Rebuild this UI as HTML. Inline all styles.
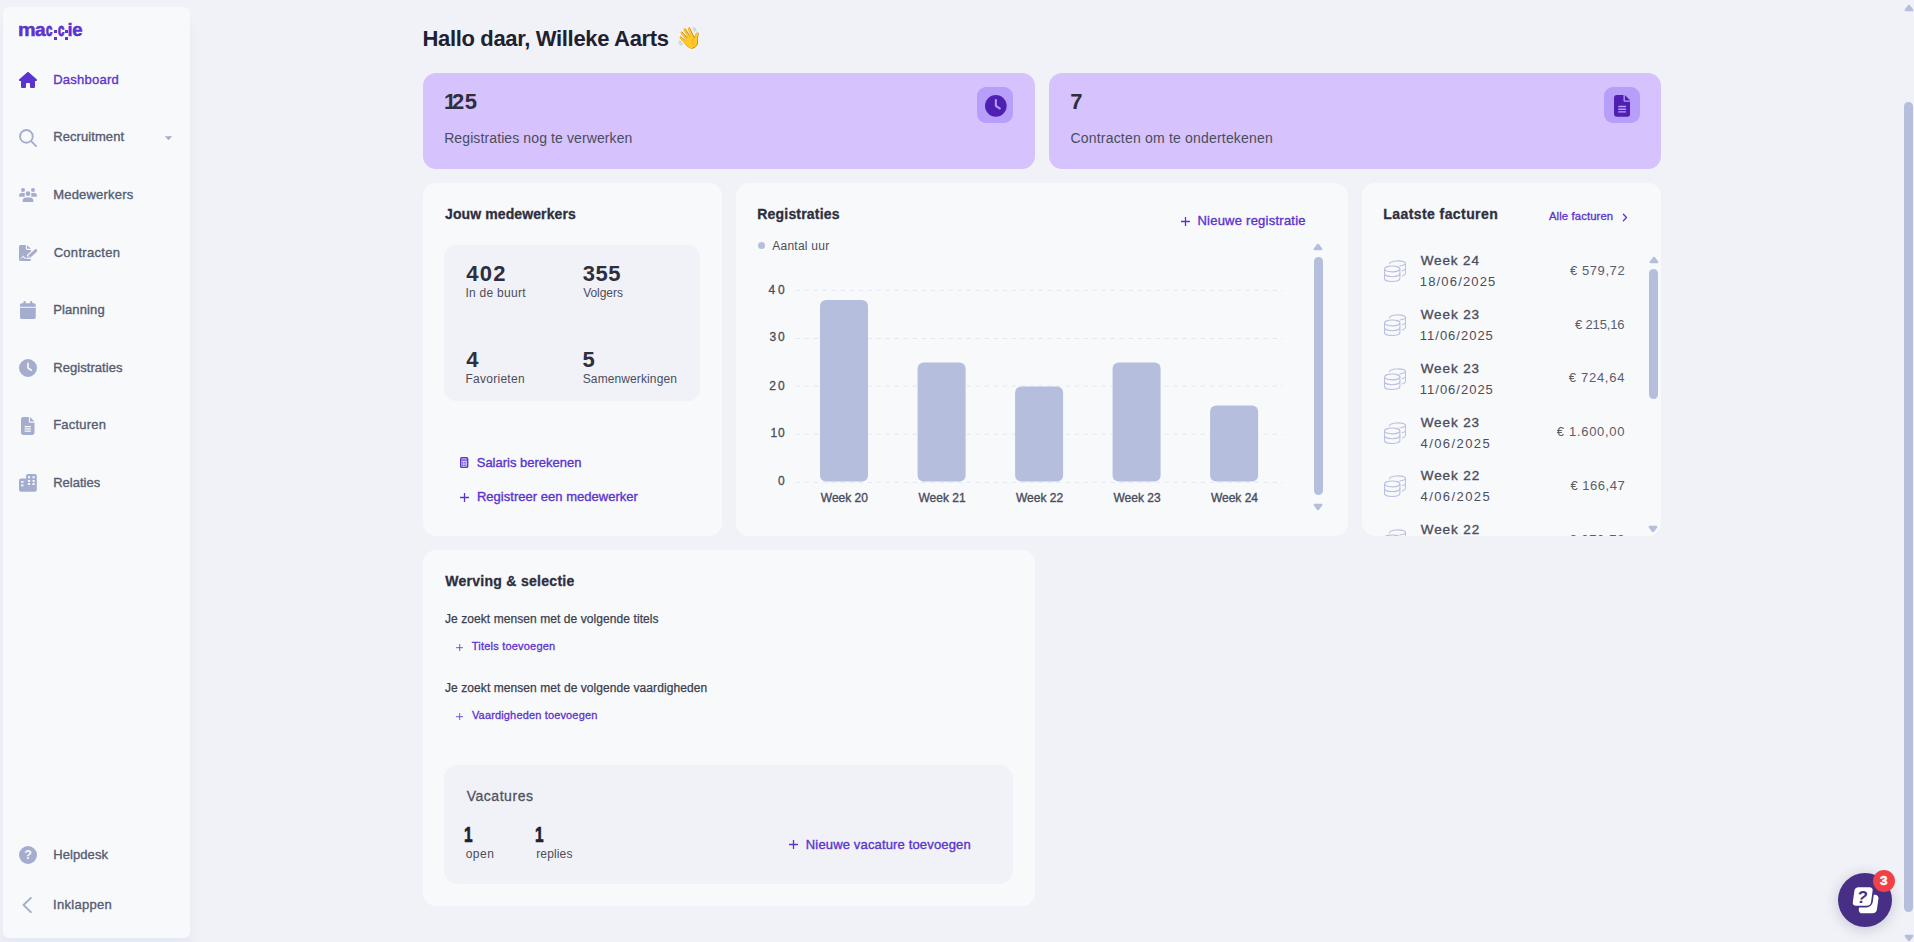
<!DOCTYPE html><html lang="nl"><head><meta charset="utf-8"><title>Maggie - Dashboard</title><style>
*{box-sizing:border-box;margin:0;padding:0}
html,body{width:1914px;height:942px;overflow:hidden;background:#f1f2f7;font-family:"Liberation Sans",sans-serif}
.t{position:absolute;white-space:pre;line-height:1;display:block}
.abs,.card,.pcard,.inner,svg.i{position:absolute}
.card{background:#f8f9fb;border-radius:13px}
.pcard{background:#d6c2fc;border-radius:13px}
.inner{background:#f1f2f7;border-radius:12px}
#sidebar{position:absolute;left:3px;top:7px;width:187px;height:931px;background:#f8f9fb;border-radius:6px;box-shadow:0 16px 14px rgba(112,144,210,.09)}
.ibox{position:absolute;width:36px;height:36px;border-radius:9px;background:#b79efa}
</style></head><body>
<nav id="sidebar"></nav>
<div class="abs" id="logo" style="left:0;top:0">
<span class="t " style="left:17.83px;top:21px;font-size:18.5px;color:#5b33cf;font-weight:700;-webkit-text-stroke:0.5px #5b33cf;transform:scaleX(1.07);transform-origin:0 0;">m</span>
<span class="t " style="left:34.81px;top:21px;font-size:18.5px;color:#5b33cf;font-weight:700;-webkit-text-stroke:0.5px #5b33cf;transform:scaleX(1.034);transform-origin:0 0;">a</span>
<span class="t " style="left:46.48px;top:21px;font-size:18.5px;color:#5b33cf;font-weight:700;-webkit-text-stroke:1.0px #5b33cf;transform:scaleX(.62);transform-origin:0 0;">c</span>
<span class="t " style="left:57.58px;top:21px;font-size:18.5px;color:#5b33cf;font-weight:700;-webkit-text-stroke:1.0px #5b33cf;transform:scaleX(.62);transform-origin:0 0;">c</span>
<span class="t " style="left:67.51px;top:21px;font-size:18.5px;color:#5b33cf;font-weight:700;-webkit-text-stroke:0.4px #5b33cf;">i</span>
<span class="t " style="left:72.28px;top:21px;font-size:18.5px;color:#5b33cf;font-weight:700;-webkit-text-stroke:0.5px #5b33cf;">e</span>
<i class="abs" style="left:53.7px;top:30.3px;width:2.9px;height:2.9px;background:#5b33cf"></i>
<i class="abs" style="left:53.5px;top:36.9px;width:3.3px;height:2.9px;background:#5b33cf"></i>
<i class="abs" style="left:65.0px;top:30.3px;width:2.9px;height:2.9px;background:#5b33cf"></i>
<i class="abs" style="left:64.8px;top:36.9px;width:3.3px;height:2.9px;background:#5b33cf"></i>
</div>
<span class="t " style="left:53.23px;top:73px;font-size:13px;color:#5b33cf;letter-spacing:0.238px;-webkit-text-stroke:0.35px #5b33cf;">Dashboard</span>
<span class="t " style="left:53.23px;top:130px;font-size:13px;color:#565d72;letter-spacing:0.078px;-webkit-text-stroke:0.35px #565d72;">Recruitment</span>
<span class="t " style="left:53.23px;top:188px;font-size:13px;color:#565d72;letter-spacing:0.191px;-webkit-text-stroke:0.35px #565d72;">Medewerkers</span>
<span class="t " style="left:53.64px;top:246px;font-size:13px;color:#565d72;letter-spacing:0.302px;-webkit-text-stroke:0.35px #565d72;">Contracten</span>
<span class="t " style="left:53.23px;top:303px;font-size:13px;color:#565d72;letter-spacing:0.115px;-webkit-text-stroke:0.35px #565d72;">Planning</span>
<span class="t " style="left:53.23px;top:361px;font-size:13px;color:#565d72;letter-spacing:0.054px;-webkit-text-stroke:0.35px #565d72;">Registraties</span>
<span class="t " style="left:53.23px;top:418px;font-size:13px;color:#565d72;letter-spacing:0.201px;-webkit-text-stroke:0.35px #565d72;">Facturen</span>
<span class="t " style="left:53.23px;top:476px;font-size:13px;color:#565d72;letter-spacing:-0.004px;-webkit-text-stroke:0.35px #565d72;">Relaties</span>
<span class="t " style="left:53.23px;top:848px;font-size:13px;color:#565d72;letter-spacing:0.079px;-webkit-text-stroke:0.35px #565d72;">Helpdesk</span>
<span class="t " style="left:53.10px;top:898px;font-size:13px;color:#565d72;letter-spacing:0.296px;-webkit-text-stroke:0.35px #565d72;">Inklappen</span>
<svg class="i" style="left:19.1px;top:71.9px" width="18" height="16" viewBox="0 0 576 512" ><path fill="#5b33cf" d="M575.8 255.5c0 18-15 32.100-32 32.100h-32l.7 160.200c0 2.700-.2 5.400-.5 8.100V472c0 22.100-17.900 40-40 40H456c-1.100 0-2.200 0-3.300-.1c-1.400 .1-2.800 .1-4.200 .1H392c-22.100 0-40-17.900-40-40V384c0-17.700-14.300-32-32-32H256c-17.700 0-32 14.300-32 32v88c0 22.100-17.900 40-40 40H128.100c-1.500 0-3-.1-4.500-.2c-1.200 .1-2.400 .2-3.600 .2H104c-22.100 0-40-17.900-40-40V360c0-.9 0-1.900 .1-2.800V287.600H32c-18 0-32-14-32-32.100c0-9 3-17 10-24L266.400 8c7-7 15-8 22-8s15 2 21 7L564.800 231.500c8 7 12 15 11 24z"/></svg>
<svg class="i" style="left:18.9px;top:128.9px" width="18" height="18" viewBox="0 0 18 18" ><circle cx="7.400" cy="7.400" r="6.350" fill="none" stroke="#a4adcd" stroke-width="1.900"/><path d="M12.100 12.100 L17.100 17.100" stroke="#a4adcd" stroke-width="1.900" stroke-linecap="round"/></svg>
<svg class="i" style="left:164.8px;top:135.9px" width="7" height="4.2" viewBox="0 0 7 4.2" ><path d="M.4 .4 H6.6 L3.500 3.900Z" fill="#a4adcd" stroke="#a4adcd" stroke-width=".6" stroke-linejoin="round"/></svg>
<svg class="i" style="left:19px;top:187.8px" width="18" height="14.4" viewBox="0 0 18 14.4" ><g fill="#a4adcd"><circle cx="4" cy="2.100" r="2"/><circle cx="14" cy="2.100" r="2"/><circle cx="9" cy="5.700" r="2.350"/><path d="M0 8.100 Q0 4.900 2.700 4.900 H4.700 Q5.500 4.900 6 5.300 Q5.200 7 5.900 8.700 H0.700 Q0 8.700 0 8.100Z"/><path d="M18 8.100 Q18 4.900 15.300 4.900 H13.300 Q12.500 4.900 12 5.300 Q12.800 7 12.100 8.700 H17.300 Q18 8.700 18 8.100Z"/><path d="M3.600 13.300 Q3.600 9.600 7.200 9.600 H10.800 Q14.400 9.600 14.400 13.300 Q14.400 14.400 13.400 14.400 H4.600 Q3.600 14.400 3.600 13.300Z"/></g></svg>
<svg class="i" style="left:19.1px;top:244.9px" width="18" height="16" viewBox="0 0 18 16" ><path fill="#a4adcd" d="M1.600 0 H6.900 V3.500 Q6.900 4.950 8.350 4.950 H12 V14.400 Q12 16 10.400 16 H1.600 Q0 16 0 14.400 V1.600 Q0 0 1.600 0Z"/><path fill="#a4adcd" d="M8 .35 L11.900 3.850 H8.500 Q8 3.850 8 3.350Z"/><path d="M9.400 12.200 L17.200 5.300" stroke="#f8f9fb" stroke-width="5.300" fill="none"/><path d="M10.500 11.300 L16.800 5.650" stroke="#a4adcd" stroke-width="3.100" stroke-linecap="round" fill="none"/><path fill="#a4adcd" stroke="#f8f9fb" stroke-width=".5" d="M8.500 13.100 L9.200 10.500 L11.500 12.700Z"/><path fill="none" stroke="#f8f9fb" stroke-width="0.950" stroke-linecap="round" stroke-linejoin="round" d="M1.900 13.500 L4.450 11 L5.400 13.500 L6.050 12.600 L7.600 13.500 H10.800"/></svg>
<svg class="i" style="left:20.1px;top:301px" width="15.75" height="18" viewBox="0 0 448 512" ><path fill="#a4adcd" d="M96 32V64H48C21.500 64 0 85.500 0 112v48H448V112c0-26.500-21.500-48-48-48H352V32c0-17.700-14.300-32-32-32s-32 14.300-32 32V64H160V32c0-17.700-14.300-32-32-32S96 14.300 96 32zM448 192H0V464c0 26.500 21.500 48 48 48H400c26.500 0 48-21.500 48-48V192z"/></svg>
<svg class="i" style="left:19.1px;top:359px" width="18" height="18" viewBox="0 0 512 512" ><path fill="#a4adcd" fill-rule="evenodd" d="M256 0a256 256 0 1 1 0 512A256 256 0 1 1 256 0zM232 120V256c0 8 4 15.500 10.700 20l96 64c11 7.400 25.900 4.400 33.300-6.700s4.400-25.900-6.700-33.300L280 243.200V120c0-13.300-10.700-24-24-24s-24 10.700-24 24z"/></svg>
<svg class="i" style="left:21.3px;top:417px" width="13.5" height="18" viewBox="0 0 384 512" ><path fill="#a4adcd" fill-rule="evenodd" d="M64 0C28.700 0 0 28.700 0 64V448c0 35.300 28.700 64 64 64H320c35.300 0 64-28.700 64-64V160H256c-17.700 0-32-14.300-32-32V0H64zM256 0V128H384L256 0zM112 256H272c8.800 0 16 7.200 16 16s-7.200 16-16 16H112c-8.800 0-16-7.200-16-16s7.200-16 16-16zm0 64H272c8.800 0 16 7.200 16 16s-7.200 16-16 16H112c-8.800 0-16-7.200-16-16s7.200-16 16-16zm0 64H272c8.800 0 16 7.200 16 16s-7.200 16-16 16H112c-8.800 0-16-7.200-16-16s7.200-16 16-16z"/></svg>
<svg class="i" style="left:19.1px;top:474px" width="18" height="18" viewBox="0 0 18 18" ><path fill="#a4adcd" d="M9 0 H15.800 Q17.800 0 17.800 2 V15.800 Q17.800 17.800 15.800 17.800 H2 Q0 17.800 0 15.800 V6.500 Q0 4.500 2 4.500 H7 V2 Q7 0 9 0Z"/><rect x="8.9" y="2.3" width="2.2" height="2" rx=".3" fill="#f8f9fb"/><rect x="13.5" y="2.3" width="2.2" height="2" rx=".3" fill="#f8f9fb"/><rect x="8.9" y="5.9" width="2.2" height="2" rx=".3" fill="#f8f9fb"/><rect x="13.5" y="5.9" width="2.2" height="2" rx=".3" fill="#f8f9fb"/><rect x="8.9" y="9.1" width="2.2" height="2" rx=".3" fill="#f8f9fb"/><rect x="13.5" y="9.1" width="2.2" height="2" rx=".3" fill="#f8f9fb"/><rect x="2.1" y="6.9" width="2.4" height="1.9" rx=".3" fill="#f8f9fb"/><rect x="2.1" y="10.4" width="2.4" height="1.9" rx=".3" fill="#f8f9fb"/></svg>
<svg class="i" style="left:19px;top:846px" width="18" height="18" viewBox="0 0 18 18" ><circle cx="9" cy="9" r="9" fill="#a4adcd"/><text x="9" y="13.300" text-anchor="middle" font-family="Liberation Sans, sans-serif" font-weight="700" font-size="12.500" fill="#f8f9fb">?</text></svg>
<svg class="i" style="left:18.5px;top:896px" width="18" height="18" viewBox="0 0 18 18" ><path d="M11.900 1.900 L4.500 9 L11.900 16.100" fill="none" stroke="#a4adcd" stroke-width="1.900" stroke-linecap="round" stroke-linejoin="round"/></svg>
<span class="t " style="left:422.43px;top:28px;font-size:22px;color:#1f2130;font-weight:700;letter-spacing:-0.332px;">Hallo daar, Willeke Aarts</span>
<span class="t " style="left:676.00px;top:27px;font-size:21px;color:#f5b32f;font-family:"Noto Color Emoji","Noto Emoji","DejaVu Sans",sans-serif;">👋</span>
<section class="pcard" style="left:423px;top:73px;width:612px;height:96px"></section>
<section class="pcard" style="left:1049px;top:73px;width:612px;height:96px"></section>
<div class="ibox" style="left:977px;top:87px"></div><div class="ibox" style="left:1604px;top:87px"></div>
<span class="t " style="left:443.91px;top:91px;font-size:22px;color:#2d2f3e;font-weight:700;">1</span>
<span class="t " style="left:452.04px;top:91px;font-size:22px;color:#2d2f3e;font-weight:700;letter-spacing:0.404px;">25</span>
<span class="t " style="left:444.15px;top:131px;font-size:14px;color:#4a4d5c;letter-spacing:0.109px;">Registraties nog te verwerken</span>
<span class="t " style="left:1070.25px;top:91px;font-size:22px;color:#2d2f3e;font-weight:700;">7</span>
<span class="t " style="left:1070.49px;top:131px;font-size:14px;color:#4a4d5c;letter-spacing:0.193px;">Contracten om te ondertekenen</span>
<section class="card" style="left:423px;top:183px;width:299px;height:353px"></section>
<section class="card" style="left:736px;top:183px;width:612px;height:353px"></section>
<section class="card" style="left:1362px;top:183px;width:299px;height:353px;overflow:hidden" id="fact"></section>
<span class="t " style="left:444.99px;top:207px;font-size:14px;color:#2d2f3e;font-weight:700;letter-spacing:0.108px;-webkit-text-stroke:0.3px #2d2f3e;">Jouw medewerkers</span>
<div class="inner" style="left:444px;top:245px;width:256px;height:156px"></div>
<span class="t " style="left:466.27px;top:263px;font-size:22px;color:#2d2f3e;font-weight:700;letter-spacing:1.304px;">402</span>
<span class="t " style="left:465.49px;top:287px;font-size:12px;color:#4a4d5c;letter-spacing:0.262px;">In de buurt</span>
<span class="t " style="left:582.70px;top:263px;font-size:22px;color:#2d2f3e;font-weight:700;letter-spacing:0.556px;">355</span>
<span class="t " style="left:583.15px;top:287px;font-size:12px;color:#4a4d5c;letter-spacing:-0.040px;">Volgers</span>
<span class="t " style="left:466.17px;top:349px;font-size:22px;color:#2d2f3e;font-weight:700;">4</span>
<span class="t " style="left:465.52px;top:373px;font-size:12px;color:#4a4d5c;letter-spacing:0.263px;">Favorieten</span>
<span class="t " style="left:582.62px;top:349px;font-size:22px;color:#2d2f3e;font-weight:700;">5</span>
<span class="t " style="left:582.76px;top:373px;font-size:12px;color:#4a4d5c;letter-spacing:0.108px;">Samenwerkingen</span>
<span class="t " style="left:476.71px;top:456px;font-size:13px;color:#5b33cf;letter-spacing:0.003px;-webkit-text-stroke:0.35px #5b33cf;">Salaris berekenen</span>
<span class="t " style="left:476.93px;top:490px;font-size:13px;color:#5b33cf;letter-spacing:0.024px;-webkit-text-stroke:0.35px #5b33cf;">Registreer een medewerker</span>
<span class="t " style="left:757.26px;top:207px;font-size:14px;color:#2d2f3e;font-weight:700;letter-spacing:0.197px;-webkit-text-stroke:0.3px #2d2f3e;">Registraties</span>
<i class="abs" style="left:758px;top:242.4px;width:7px;height:7px;border-radius:50%;background:#b5bedd"></i>
<span class="t " style="left:772.28px;top:240px;font-size:12px;color:#4a4d5c;letter-spacing:0.247px;">Aantal uur</span>
<span class="t " style="left:1197.43px;top:214px;font-size:13px;color:#5b33cf;letter-spacing:0.241px;-webkit-text-stroke:0.35px #5b33cf;">Nieuwe registratie</span>
<svg class="i" style="left:0px;top:0px" width="1914" height="942" viewBox="0 0 1914 942" id="chart" style="pointer-events:none"><line x1="795.5" x2="1283" y1="290.4" y2="290.4" stroke="#e4e7f1" stroke-width="1" stroke-dasharray="4.5 4.5"/><line x1="795.5" x2="1283" y1="338.5" y2="338.5" stroke="#e4e7f1" stroke-width="1" stroke-dasharray="4.5 4.5"/><line x1="795.5" x2="1283" y1="386.0" y2="386.0" stroke="#e4e7f1" stroke-width="1" stroke-dasharray="4.5 4.5"/><line x1="795.5" x2="1283" y1="434.2" y2="434.2" stroke="#e4e7f1" stroke-width="1" stroke-dasharray="4.5 4.5"/><line x1="795.5" x2="1283" y1="482.4" y2="482.4" stroke="#e4e7f1" stroke-width="1" stroke-dasharray="4.5 4.5"/><rect x="820" y="300.1" width="48" height="181.4" rx="6" fill="#b5bedd"/><rect x="917.6" y="362.5" width="48" height="119.0" rx="6" fill="#b5bedd"/><rect x="1015.1" y="386.4" width="48" height="95.1" rx="6" fill="#b5bedd"/><rect x="1112.6" y="362.5" width="48" height="119.0" rx="6" fill="#b5bedd"/><rect x="1210.1" y="405.6" width="48" height="75.9" rx="6" fill="#b5bedd"/></svg>
<span class="t " style="left:768.62px;top:284px;font-size:12px;color:#4a4d5c;letter-spacing:2.596px;-webkit-text-stroke:0.3px #4a4d5c;">40</span>
<span class="t " style="left:769.44px;top:331px;font-size:12px;color:#4a4d5c;letter-spacing:1.778px;-webkit-text-stroke:0.3px #4a4d5c;">30</span>
<span class="t " style="left:769.30px;top:380px;font-size:12px;color:#4a4d5c;letter-spacing:1.925px;-webkit-text-stroke:0.3px #4a4d5c;">20</span>
<span class="t " style="left:770.39px;top:427px;font-size:12px;color:#4a4d5c;letter-spacing:0.835px;-webkit-text-stroke:0.3px #4a4d5c;">10</span>
<span class="t " style="left:777.89px;top:475px;font-size:12px;color:#4a4d5c;-webkit-text-stroke:0.3px #4a4d5c;">0</span>
<span class="t " style="left:820.84px;top:492px;font-size:12px;color:#4a4d5c;-webkit-text-stroke:0.35px #4a4d5c;">Week 20</span>
<span class="t " style="left:918.50px;top:492px;font-size:12px;color:#4a4d5c;-webkit-text-stroke:0.35px #4a4d5c;">Week 21</span>
<span class="t " style="left:1016.01px;top:492px;font-size:12px;color:#4a4d5c;-webkit-text-stroke:0.35px #4a4d5c;">Week 22</span>
<span class="t " style="left:1113.47px;top:492px;font-size:12px;color:#4a4d5c;-webkit-text-stroke:0.35px #4a4d5c;">Week 23</span>
<span class="t " style="left:1210.88px;top:492px;font-size:12px;color:#4a4d5c;-webkit-text-stroke:0.35px #4a4d5c;">Week 24</span>
<i class="abs" style="left:1314px;top:257.3px;width:9.2px;height:237.6px;border-radius:5px;background:#b5bedd"></i>
<svg class="i" style="left:1313.4px;top:243.2px" width="10" height="8" viewBox="0 0 10 8" ><path d="M5 1.7 L8.4 6.2 H1.6 Z" fill="#b5bedd" stroke="#b5bedd" stroke-width="2" stroke-linejoin="round"/></svg>
<svg class="i" style="left:1313.4px;top:502.5px" width="10" height="8" viewBox="0 0 10 8" ><path d="M5 6.3 L8.4 1.8 H1.6 Z" fill="#b5bedd" stroke="#b5bedd" stroke-width="2" stroke-linejoin="round"/></svg>
<span class="t " style="left:1383.26px;top:207px;font-size:14px;color:#2d2f3e;font-weight:700;letter-spacing:0.424px;-webkit-text-stroke:0.3px #2d2f3e;">Laatste facturen</span>
<span class="t " style="left:1548.98px;top:211px;font-size:11.3px;color:#5b33cf;letter-spacing:0.113px;-webkit-text-stroke:0.3px #5b33cf;">Alle facturen</span>
<div class="abs" style="left:0;top:0;width:1914px;height:536px;overflow:hidden">
<svg class="i" style="left:1383.8px;top:260.1px" width="22.4" height="22.4" viewBox="0 0 22.4 22.4" ><g fill="none" stroke="#b9c1de" stroke-width="1.050" stroke-linecap="round"><ellipse cx="8.200" cy="9" rx="7.700" ry="2.900"/><path d="M.5 9 V18.600 A7.700 2.900 0 0 0 15.900 18.600 V9"/><path d="M.5 13.800 A7.700 2.900 0 0 0 15.900 13.800"/><path d="M5.600 3.900 A8 2.700 0 0 1 21.600 3.300 A8 2.700 0 0 1 15.800 5.900"/><path d="M21.600 3.300 V13.300 Q21.400 15 18.300 15.900"/><path d="M21.600 8.300 Q21.400 10 18.300 10.800"/></g></svg>
<span class="t " style="left:1420.74px;top:254px;font-size:13.5px;color:#4a4d5c;letter-spacing:0.854px;-webkit-text-stroke:0.35px #4a4d5c;">Week 24</span>
<span class="t " style="left:1419.81px;top:275px;font-size:13px;color:#4a4d5c;letter-spacing:1.164px;">18/06/2025</span>
<span class="t " style="left:1569.90px;top:264px;font-size:13px;color:#5a5d6a;letter-spacing:0.593px;">€ 579,72</span>
<svg class="i" style="left:1383.8px;top:313.90000000000003px" width="22.4" height="22.4" viewBox="0 0 22.4 22.4" ><g fill="none" stroke="#b9c1de" stroke-width="1.050" stroke-linecap="round"><ellipse cx="8.200" cy="9" rx="7.700" ry="2.900"/><path d="M.5 9 V18.600 A7.700 2.900 0 0 0 15.900 18.600 V9"/><path d="M.5 13.800 A7.700 2.900 0 0 0 15.900 13.800"/><path d="M5.600 3.900 A8 2.700 0 0 1 21.600 3.300 A8 2.700 0 0 1 15.800 5.900"/><path d="M21.600 3.300 V13.300 Q21.400 15 18.300 15.900"/><path d="M21.600 8.300 Q21.400 10 18.300 10.800"/></g></svg>
<span class="t " style="left:1420.74px;top:308px;font-size:13.5px;color:#4a4d5c;letter-spacing:0.887px;-webkit-text-stroke:0.35px #4a4d5c;">Week 23</span>
<span class="t " style="left:1419.81px;top:329px;font-size:13px;color:#4a4d5c;letter-spacing:0.993px;">11/06/2025</span>
<span class="t " style="left:1574.90px;top:318px;font-size:13px;color:#5a5d6a;letter-spacing:-0.133px;">€ 215,16</span>
<svg class="i" style="left:1383.8px;top:367.70000000000005px" width="22.4" height="22.4" viewBox="0 0 22.4 22.4" ><g fill="none" stroke="#b9c1de" stroke-width="1.050" stroke-linecap="round"><ellipse cx="8.200" cy="9" rx="7.700" ry="2.900"/><path d="M.5 9 V18.600 A7.700 2.900 0 0 0 15.900 18.600 V9"/><path d="M.5 13.800 A7.700 2.900 0 0 0 15.900 13.800"/><path d="M5.600 3.900 A8 2.700 0 0 1 21.600 3.300 A8 2.700 0 0 1 15.800 5.900"/><path d="M21.600 3.300 V13.300 Q21.400 15 18.300 15.900"/><path d="M21.600 8.300 Q21.400 10 18.300 10.800"/></g></svg>
<span class="t " style="left:1420.74px;top:362px;font-size:13.5px;color:#4a4d5c;letter-spacing:0.887px;-webkit-text-stroke:0.35px #4a4d5c;">Week 23</span>
<span class="t " style="left:1419.81px;top:383px;font-size:13px;color:#4a4d5c;letter-spacing:0.993px;">11/06/2025</span>
<span class="t " style="left:1568.70px;top:371px;font-size:13px;color:#5a5d6a;letter-spacing:0.726px;">€ 724,64</span>
<svg class="i" style="left:1383.8px;top:421.5px" width="22.4" height="22.4" viewBox="0 0 22.4 22.4" ><g fill="none" stroke="#b9c1de" stroke-width="1.050" stroke-linecap="round"><ellipse cx="8.200" cy="9" rx="7.700" ry="2.900"/><path d="M.5 9 V18.600 A7.700 2.900 0 0 0 15.900 18.600 V9"/><path d="M.5 13.800 A7.700 2.900 0 0 0 15.900 13.800"/><path d="M5.600 3.900 A8 2.700 0 0 1 21.600 3.300 A8 2.700 0 0 1 15.800 5.900"/><path d="M21.600 3.300 V13.300 Q21.400 15 18.300 15.900"/><path d="M21.600 8.300 Q21.400 10 18.300 10.800"/></g></svg>
<span class="t " style="left:1420.74px;top:416px;font-size:13.5px;color:#4a4d5c;letter-spacing:0.887px;-webkit-text-stroke:0.35px #4a4d5c;">Week 23</span>
<span class="t " style="left:1420.50px;top:437px;font-size:13px;color:#4a4d5c;letter-spacing:1.426px;">4/06/2025</span>
<span class="t " style="left:1556.80px;top:425px;font-size:13px;color:#5a5d6a;letter-spacing:0.696px;">€ 1.600,00</span>
<svg class="i" style="left:1383.8px;top:475.3px" width="22.4" height="22.4" viewBox="0 0 22.4 22.4" ><g fill="none" stroke="#b9c1de" stroke-width="1.050" stroke-linecap="round"><ellipse cx="8.200" cy="9" rx="7.700" ry="2.900"/><path d="M.5 9 V18.600 A7.700 2.900 0 0 0 15.900 18.600 V9"/><path d="M.5 13.800 A7.700 2.900 0 0 0 15.900 13.800"/><path d="M5.600 3.900 A8 2.700 0 0 1 21.600 3.300 A8 2.700 0 0 1 15.800 5.900"/><path d="M21.600 3.300 V13.300 Q21.400 15 18.300 15.900"/><path d="M21.600 8.300 Q21.400 10 18.300 10.800"/></g></svg>
<span class="t " style="left:1420.74px;top:469px;font-size:13.5px;color:#4a4d5c;letter-spacing:0.901px;-webkit-text-stroke:0.35px #4a4d5c;">Week 22</span>
<span class="t " style="left:1420.50px;top:490px;font-size:13px;color:#4a4d5c;letter-spacing:1.426px;">4/06/2025</span>
<span class="t " style="left:1570.40px;top:479px;font-size:13px;color:#5a5d6a;letter-spacing:0.522px;">€ 166,47</span>
<svg class="i" style="left:1383.8px;top:529.1px" width="22.4" height="22.4" viewBox="0 0 22.4 22.4" ><g fill="none" stroke="#b9c1de" stroke-width="1.050" stroke-linecap="round"><ellipse cx="8.200" cy="9" rx="7.700" ry="2.900"/><path d="M.5 9 V18.600 A7.700 2.900 0 0 0 15.900 18.600 V9"/><path d="M.5 13.800 A7.700 2.900 0 0 0 15.900 13.800"/><path d="M5.600 3.900 A8 2.700 0 0 1 21.600 3.300 A8 2.700 0 0 1 15.800 5.900"/><path d="M21.600 3.300 V13.300 Q21.400 15 18.300 15.900"/><path d="M21.600 8.300 Q21.400 10 18.300 10.800"/></g></svg>
<span class="t " style="left:1420.74px;top:523px;font-size:13.5px;color:#4a4d5c;letter-spacing:0.901px;-webkit-text-stroke:0.35px #4a4d5c;">Week 22</span>
<span class="t " style="left:1420.15px;top:544px;font-size:13px;color:#4a4d5c;letter-spacing:1.237px;">28/05/2025</span>
<span class="t " style="left:1568.90px;top:533px;font-size:13px;color:#5a5d6a;letter-spacing:0.723px;">€ 372,78</span>
</div>
<i class="abs" style="left:1649.2px;top:269px;width:9.2px;height:130px;border-radius:5px;background:#b5bedd"></i>
<svg class="i" style="left:1648.7px;top:255.8px" width="10" height="8" viewBox="0 0 10 8" ><path d="M5 1.7 L8.4 6.2 H1.6 Z" fill="#b5bedd" stroke="#b5bedd" stroke-width="2" stroke-linejoin="round"/></svg>
<svg class="i" style="left:1648.4px;top:524.5px" width="10" height="8" viewBox="0 0 10 8" ><path d="M5 6.3 L8.4 1.8 H1.6 Z" fill="#b5bedd" stroke="#b5bedd" stroke-width="2" stroke-linejoin="round"/></svg>
<section class="card" style="left:423px;top:550px;width:612px;height:356px"></section>
<span class="t " style="left:445.19px;top:574px;font-size:14px;color:#2d2f3e;font-weight:700;letter-spacing:0.286px;-webkit-text-stroke:0.3px #2d2f3e;">Werving &amp; selectie</span>
<span class="t " style="left:445.01px;top:613px;font-size:12px;color:#3b3e4d;letter-spacing:0.074px;-webkit-text-stroke:0.25px #3b3e4d;">Je zoekt mensen met de volgende titels</span>
<span class="t " style="left:471.75px;top:641px;font-size:11px;color:#5b33cf;letter-spacing:0.210px;-webkit-text-stroke:0.3px #5b33cf;">Titels toevoegen</span>
<span class="t " style="left:445.01px;top:682px;font-size:12px;color:#3b3e4d;letter-spacing:0.075px;-webkit-text-stroke:0.25px #3b3e4d;">Je zoekt mensen met de volgende vaardigheden</span>
<span class="t " style="left:471.95px;top:710px;font-size:11px;color:#5b33cf;letter-spacing:0.154px;-webkit-text-stroke:0.3px #5b33cf;">Vaardigheden toevoegen</span>
<div class="inner" style="left:444px;top:765px;width:569px;height:119px;border-radius:14px"></div>
<span class="t " style="left:466.64px;top:789px;font-size:14px;color:#4f5261;letter-spacing:0.547px;-webkit-text-stroke:0.3px #4f5261;">Vacatures</span>
<span class="t " style="left:464.21px;top:824px;font-size:22px;color:#1f2130;font-weight:700;-webkit-text-stroke:0.7px #1f2130;transform:scaleX(.7);transform-origin:0 0;">1</span>
<span class="t " style="left:465.70px;top:848px;font-size:12px;color:#4a4d5c;letter-spacing:0.496px;">open</span>
<span class="t " style="left:534.71px;top:824px;font-size:22px;color:#1f2130;font-weight:700;-webkit-text-stroke:0.7px #1f2130;transform:scaleX(.7);transform-origin:0 0;">1</span>
<span class="t " style="left:536.20px;top:848px;font-size:12px;color:#4a4d5c;letter-spacing:0.147px;">replies</span>
<span class="t " style="left:805.83px;top:838px;font-size:13px;color:#5b33cf;letter-spacing:0.152px;-webkit-text-stroke:0.35px #5b33cf;">Nieuwe vacature toevoegen</span>
<svg class="i" style="left:985px;top:95px" width="21.7" height="21.7" viewBox="0 0 512 512" ><path fill="#4f1fb4" fill-rule="evenodd" d="M256 0a256 256 0 1 1 0 512A256 256 0 1 1 256 0zM232 120V256c0 8 4 15.500 10.700 20l96 64c11 7.400 25.900 4.400 33.300-6.700s4.400-25.900-6.700-33.300L280 243.200V120c0-13.300-10.700-24-24-24s-24 10.700-24 24z"/></svg>
<svg class="i" style="left:1614px;top:95px" width="16.3" height="21.7" viewBox="0 0 384 512" ><path fill="#4f1fb4" fill-rule="evenodd" d="M64 0C28.700 0 0 28.700 0 64V448c0 35.300 28.700 64 64 64H320c35.300 0 64-28.700 64-64V160H256c-17.700 0-32-14.300-32-32V0H64zM256 0V128H384L256 0zM112 256H272c8.800 0 16 7.200 16 16s-7.200 16-16 16H112c-8.800 0-16-7.200-16-16s7.200-16 16-16zm0 64H272c8.800 0 16 7.200 16 16s-7.200 16-16 16H112c-8.800 0-16-7.200-16-16s7.200-16 16-16zm0 64H272c8.800 0 16 7.200 16 16s-7.200 16-16 16H112c-8.800 0-16-7.200-16-16s7.200-16 16-16z"/></svg>
<svg class="i" style="left:460.3px;top:456.9px" width="8.4" height="11.2" viewBox="0 0 8.4 11.2" ><rect x=".75" y=".75" width="6.900" height="9.700" rx="1.200" fill="none" stroke="#5b33cf" stroke-width="1.500"/><path d="M1.500 3.100 H6.900" stroke="#5b33cf" stroke-width="1.300"/><rect x="2.05" y="4.7" width="1.150" height="1.150" fill="#5b33cf"/><rect x="2.05" y="6.4" width="1.150" height="1.150" fill="#5b33cf"/><rect x="2.05" y="8.1" width="1.150" height="1.150" fill="#5b33cf"/><rect x="3.65" y="4.7" width="1.150" height="1.150" fill="#5b33cf"/><rect x="3.65" y="6.4" width="1.150" height="1.150" fill="#5b33cf"/><rect x="3.65" y="8.1" width="1.150" height="1.150" fill="#5b33cf"/><rect x="5.25" y="4.7" width="1.150" height="1.150" fill="#5b33cf"/><rect x="5.25" y="6.4" width="1.150" height="1.150" fill="#5b33cf"/><rect x="5.25" y="8.1" width="1.150" height="1.150" fill="#5b33cf"/></svg>
<svg class="i" style="left:460px;top:492.8px" width="9" height="9" viewBox="0 0 9 9" ><path d="M4.500 .3 V8.700 M.3 4.500 H8.700" stroke="#5b33cf" stroke-width="1.3" stroke-linecap="round" fill="none"/></svg>
<svg class="i" style="left:1181px;top:217px" width="9" height="9" viewBox="0 0 9 9" ><path d="M4.500 .3 V8.700 M.3 4.500 H8.700" stroke="#5b33cf" stroke-width="1.3" stroke-linecap="round" fill="none"/></svg>
<svg class="i" style="left:455.9px;top:643.7px" width="7.4" height="7.4" viewBox="0 0 9 9" ><path d="M4.500 .3 V8.700 M.3 4.500 H8.700" stroke="#5b33cf" stroke-width="1.0" stroke-linecap="round" fill="none"/></svg>
<svg class="i" style="left:455.9px;top:712.7px" width="7.4" height="7.4" viewBox="0 0 9 9" ><path d="M4.500 .3 V8.700 M.3 4.500 H8.700" stroke="#5b33cf" stroke-width="1.0" stroke-linecap="round" fill="none"/></svg>
<svg class="i" style="left:789px;top:840.3px" width="9" height="9" viewBox="0 0 9 9" ><path d="M4.500 .3 V8.700 M.3 4.500 H8.700" stroke="#5b33cf" stroke-width="1.3" stroke-linecap="round" fill="none"/></svg>
<svg class="i" style="left:1622.4px;top:213.2px" width="6" height="9" viewBox="0 0 6 9" ><path d="M1.400 1.300 L4.500 4.500 L1.400 7.700" fill="none" stroke="#5b33cf" stroke-width="1.300" stroke-linecap="round" stroke-linejoin="round"/></svg>
<i class="abs" style="left:1903.9px;top:102px;width:9.2px;height:810px;border-radius:5px;background:#b5bedd"></i>
<svg class="i" style="left:1903.5px;top:4.3px" width="10" height="8" viewBox="0 0 10 8" ><path d="M5 1.7 L8.4 6.2 H1.6 Z" fill="#b5bedd" stroke="#b5bedd" stroke-width="2" stroke-linejoin="round"/></svg>
<svg class="i" style="left:1903.5px;top:933.5px" width="10" height="8" viewBox="0 0 10 8" ><path d="M5 6.3 L8.4 1.8 H1.6 Z" fill="#b5bedd" stroke="#b5bedd" stroke-width="2" stroke-linejoin="round"/></svg>
<div class="abs" style="left:1838px;top:873px;width:54px;height:54px;border-radius:50%;background:#472f85;box-shadow:0 2px 14px rgba(40,30,90,.22)"></div>
<svg class="i" style="left:1848px;top:882px" width="36" height="36" viewBox="0 0 36 36" ><g transform="skewX(-8)"><rect x="14.600" y="12.800" width="18.200" height="18.500" rx="4" fill="#fff"/><rect x="6.800" y="4.450" width="19.900" height="20.100" rx="4.600" fill="#fff" stroke="#472f85" stroke-width="1.700"/></g><text x="14.300" y="20.900" text-anchor="middle" font-family="Liberation Sans, sans-serif" font-weight="700" font-style="italic" font-size="17" fill="#472f85">?</text></svg>
<div class="abs" style="left:1873px;top:870px;width:22px;height:22px;border-radius:50%;background:#ef4146"></div>
<span class="t " style="left:1880.42px;top:875px;font-size:12px;color:#fff;font-weight:700;-webkit-text-stroke:0.5px #fff;transform:scaleX(1.12);transform-origin:0 0;">3</span>
</body></html>
